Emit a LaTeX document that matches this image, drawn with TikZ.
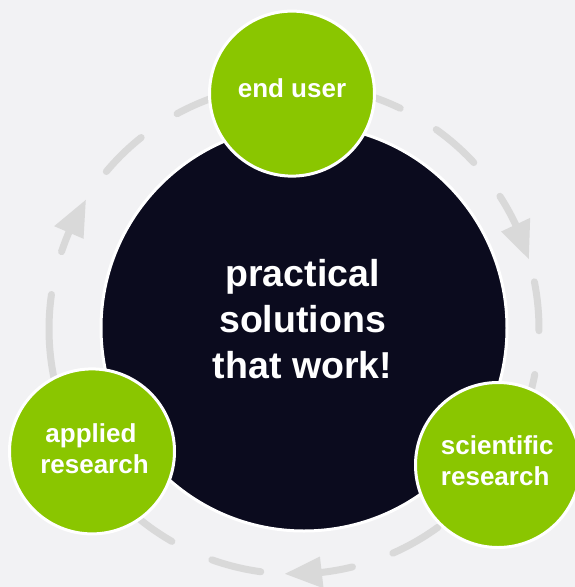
\documentclass[tikz,border=0pt]{standalone}
\usepackage{fontspec}
\setmainfont{Liberation Sans}
\definecolor{bg}{RGB}{242,242,244}
\definecolor{dashgrey}{RGB}{217,217,217}
\definecolor{core}{RGB}{11,11,30}
\definecolor{leaf}{RGB}{138,198,0}
\begin{document}
\begin{tikzpicture}[x=1pt,y=1pt,
  dashline/.style={draw=dashgrey, line width=7pt, line cap=round},
  arrowhead/.style={fill=dashgrey},
  hub/.style={circle, fill=core, draw=white, line width=3pt, minimum size=406pt, inner sep=0pt},
  spoke/.style={circle, fill=leaf, draw=white, line width=3pt, minimum size=165pt, inner sep=0pt},
  smalltext/.style={text=white, font=\fontsize{26}{26}\selectfont\bfseries, inner sep=0pt, anchor=base},
  bigtext/.style={text=white, font=\fontsize{37.5}{37.5}\selectfont\bfseries, inner sep=0pt, anchor=base}]
\useasboundingbox[fill=bg] (0,0) rectangle (575,-587);
\coordinate (cyc) at (294,-329);
% dashed cycle
\foreach \a/\b in {118.5/107, 76/64.3, 54.5/42.8, 32.8/24, 11.1/-0.4, -10.7/-22.5, -31.5/-44.5, -54/-66.2, -76.2/-84.5, -97.8/-109.6, -119.9/-131.5, -141/-154, -163/-188.1, -198.4/-204, -220/-231.4}
  \draw[dashline] ([shift={(\a:245)}]cyc) arc[start angle=\a, end angle=\b, radius=245];
\foreach \t in {16.6,-92.1,148.2}
  \fill[arrowhead] ([shift={(\t:245)}]cyc) -- ([shift={({\t+8.6}:261)}]cyc) -- ([shift={({\t+8.6}:229)}]cyc) -- cycle;
% circles
\node[hub] (core) at (304,-328) {};
\node[spoke] (eu) at (292,-93.6) {};
\node[spoke] (ar) at (92,-451.4) {};
\node[spoke] (sr) at (498,-465) {};
% texts
\node[bigtext] (c1) at (302.5,-286) {practical};
\node[bigtext] (c2) at (302.5,-332.5) {solutions};
\node[bigtext] (c3) at (302.5,-378) {that work!};
\node[smalltext] (eut) at (292,-97.3) {end user};
\node[smalltext] (ar1) at (91,-442) {applied};
\node[smalltext] (ar2) at (94.5,-473.7) {research};
\node[smalltext] (sr1) at (497.3,-454.7) {scientific};
\node[smalltext] (sr2) at (495.2,-485.2) {research};
\end{tikzpicture}
\end{document}
